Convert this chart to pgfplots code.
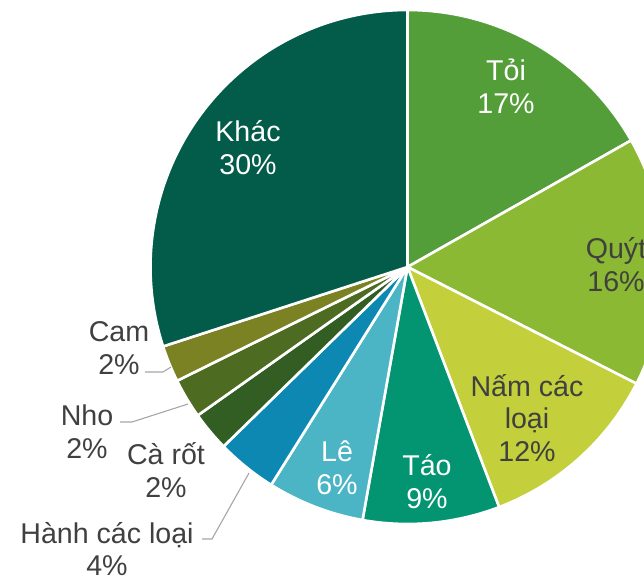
\documentclass[border=0pt]{standalone}
\usepackage{fontspec}
\setmainfont{Liberation Sans}
\usepackage{pgfplots}
\pgfplotsset{compat=1.18}
\usepackage{pgfplotstable}

\definecolor{cToi}{HTML}{549E3A}
\definecolor{cQuyt}{HTML}{8BB934}
\definecolor{cNam}{HTML}{C3D03B}
\definecolor{cTao}{HTML}{039572}
\definecolor{cLe}{HTML}{4BB5C6}
\definecolor{cHanh}{HTML}{0C88B2}
\definecolor{cCarot}{HTML}{325E24}
\definecolor{cNho}{HTML}{4E6B22}
\definecolor{cCam}{HTML}{7A8224}
\definecolor{cKhac}{HTML}{025C49}
\definecolor{txt}{HTML}{404040}
\definecolor{lead}{HTML}{A6A6A6}

\tikzset{lbl/.style={font=\fontsize{28.7}{33}\selectfont, align=center, inner sep=0pt}}

% share of each slice (percent), clockwise from 12 o'clock
\pgfplotstableread{
name   value col
Toi    16.8  cToi
Quyt   15.7  cQuyt
Nam    11.7  cNam
Tao    8.6   cTao
Le     6.1   cLe
Hanh   3.8   cHanh
Carot  2.5   cCarot
Nho    2.5   cNho
Cam    2.3   cCam
Khac   30.0  cKhac
}\piedata

\begin{document}
\begin{tikzpicture}
\begin{axis}[
  scale only axis, width=644bp, height=578bp,
  xmin=0, xmax=644, ymin=0, ymax=578,
  hide axis, clip=true,
]
\coordinate (SW) at (axis cs:0,0);
\coordinate (NE) at (axis cs:644,578);
\pgfplotsextra{
  \pgfplotstablegetrowsof{\piedata}
  \pgfmathtruncatemacro\N{\pgfplotsretval-1}
  \gdef\cum{0}
  \foreach \i in {0,...,\N}{
    \pgfplotstablegetelem{\i}{value}\of\piedata
    \let\v\pgfplotsretval
    \pgfplotstablegetelem{\i}{col}\of\piedata
    \let\c\pgfplotsretval
    \pgfmathsetmacro\aA{90-3.6*\cum}
    \pgfmathsetmacro\aB{90-3.6*(\cum+\v)}
    \fill[fill=\c, draw=white, line width=2.6bp, line join=round]
      (axis cs:407.5,311) -- ++(\aA:257bp) arc[start angle=\aA, end angle=\aB, radius=257bp] -- cycle;
    \pgfmathsetmacro\newcum{\cum+\v}
    \xdef\cum{\newcum}
  }
}
% leader lines
\addplot[lead, line width=1.1bp] coordinates {(249,105) (212,39) (202,39)};
\addplot[lead, line width=1.1bp] coordinates {(188,174) (132,156) (120,156)};
\addplot[lead, line width=1.1bp] coordinates {(171,211) (163,206) (145,206)};
% labels
\node[lbl, white] at (axis cs:506,492) {Tỏi\\17\%};
\node[lbl, txt]   at (axis cs:616,313) {Quýt\\16\%};
\node[lbl, txt]   at (axis cs:527,160) {Nấm các\\loại\\12\%};
\node[lbl, white] at (axis cs:427,96)  {Táo\\9\%};
\node[lbl, white] at (axis cs:337,110) {Lê\\6\%};
\node[lbl, txt]   at (axis cs:107,29)  {Hành các loại\\4\%};
\node[lbl, txt]   at (axis cs:166,108) {Cà rốt\\2\%};
\node[lbl, txt]   at (axis cs:87,146)  {Nho\\2\%};
\node[lbl, txt]   at (axis cs:119,230) {Cam\\2\%};
\node[lbl, white] at (axis cs:248,430) {Khác\\30\%};
\end{axis}
\pgfresetboundingbox
\useasboundingbox (SW) rectangle (NE);
\end{tikzpicture}
\end{document}
